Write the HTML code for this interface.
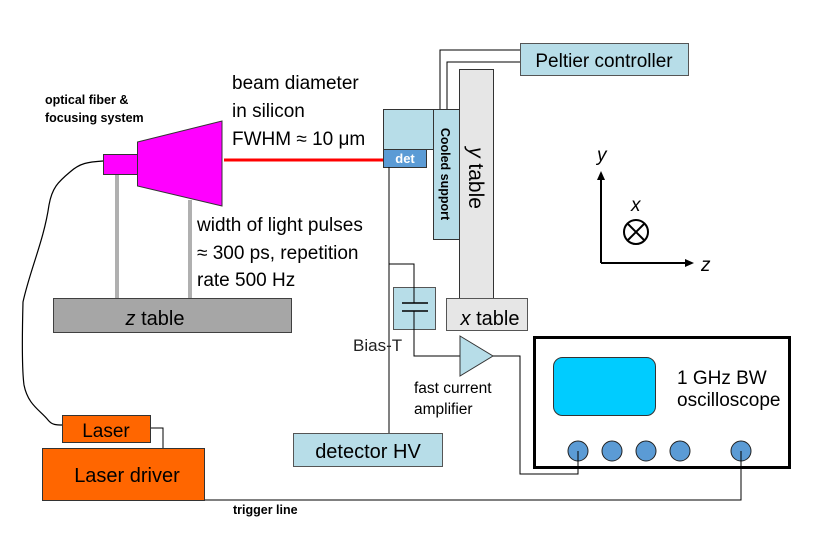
<!DOCTYPE html>
<html><head><style>body{margin:0;background:#fff}svg{display:block}</style></head><body>
<svg width="831" height="541" xmlns="http://www.w3.org/2000/svg" font-family="Liberation Sans, sans-serif">
<rect width="831" height="541" fill="#fff"/>
<path d="M103,161 C88,162 80,163 70,172 C58,182 52,188 49,205 C44,240 30,270 23,302 C22,340 22,370 24,385 C28,405 40,410 48,420 C52,425 56,425 63,425" fill="none" stroke="#000" stroke-width="1.2"/>
<rect x="115" y="174" width="4" height="124" fill="#b0b0b0"/>
<rect x="188" y="200" width="4" height="98" fill="#b0b0b0"/>
<rect x="53.5" y="298.5" width="238" height="34" fill="#a6a6a6" stroke="#404040"/>
<text x="155" y="325" font-size="20" text-anchor="middle"><tspan font-style="italic">z</tspan> table</text>
<rect x="103.5" y="154.5" width="34" height="20" fill="#ff00ff" stroke="#333"/>
<polygon points="137.5,142 222,121 222,206 137.5,186" fill="#ff00ff" stroke="#333"/>
<text x="45" y="104" font-size="12.5" font-weight="bold">optical fiber &amp;</text>
<text x="45" y="122" font-size="12.5" font-weight="bold">focusing system</text>
<line x1="224" y1="160" x2="384" y2="160" stroke="#ff0000" stroke-width="3"/>
<g font-size="19">
<text x="232" y="89">beam diameter</text>
<text x="232" y="117">in silicon</text>
<text x="232" y="145">FWHM ≈ 10 μm</text>
<text x="197" y="231">width of light pulses</text>
<text x="197" y="259">≈ 300 ps, repetition</text>
<text x="197" y="286">rate 500 Hz</text>
</g>
<polyline points="520,50 440,50 440,109" fill="none" stroke="#000"/>
<polyline points="520,62 447,62 447,109" fill="none" stroke="#000"/>
<rect x="520.5" y="43.5" width="168" height="32" fill="#b7dde8" stroke="#555"/>
<text x="604" y="67" font-size="19" text-anchor="middle">Peltier controller</text>
<rect x="459.5" y="69.5" width="34" height="229" fill="#e6e6e6" stroke="#333"/>
<text transform="translate(469,178) rotate(90)" font-size="21" text-anchor="middle"><tspan font-style="italic">y</tspan> table</text>
<rect x="446.5" y="298.5" width="81" height="32" fill="#e6e6e6" stroke="#555"/>
<text x="490" y="325" font-size="20" text-anchor="middle"><tspan font-style="italic">x</tspan> table</text>
<rect x="383.5" y="109.5" width="50" height="40" fill="#b7dde8" stroke="#333"/>
<rect x="383.5" y="149.5" width="43" height="18" fill="#5b9bd5" stroke="#333"/>
<text x="405" y="163" font-size="13" font-weight="bold" fill="#fff" text-anchor="middle">det</text>
<rect x="433.5" y="109.5" width="26" height="130" fill="#b7dde8" stroke="#333"/>
<text transform="translate(441,174) rotate(90)" font-size="12.5" font-weight="bold" text-anchor="middle">Cooled support</text>
<line x1="601" y1="263" x2="601" y2="178" stroke="#000" stroke-width="2"/>
<polygon points="601,171 597,180 605,180" fill="#000"/>
<line x1="601" y1="263" x2="686" y2="263" stroke="#000" stroke-width="2"/>
<polygon points="694,263 685,259 685,267" fill="#000"/>
<text x="597" y="161" font-size="19" font-style="italic">y</text>
<text x="701" y="271" font-size="19" font-style="italic">z</text>
<text x="631" y="211" font-size="19" font-style="italic">x</text>
<circle cx="636" cy="232" r="12" fill="none" stroke="#000" stroke-width="2"/>
<line x1="627.5" y1="223.5" x2="644.5" y2="240.5" stroke="#000" stroke-width="2"/>
<line x1="644.5" y1="223.5" x2="627.5" y2="240.5" stroke="#000" stroke-width="2"/>
<line x1="389" y1="167" x2="389" y2="433" stroke="#000"/>
<rect x="393.5" y="287.5" width="42" height="42" fill="#b7dde8" stroke="#555"/>
<polyline points="389,264 414,264 414,303" fill="none" stroke="#000"/>
<polyline points="414,311 414,356 460,356" fill="none" stroke="#000"/>
<line x1="402" y1="303" x2="428" y2="303" stroke="#000" stroke-width="1.5"/>
<line x1="402" y1="311" x2="428" y2="311" stroke="#000" stroke-width="1.5"/>
<text x="353" y="351" font-size="17" fill="#222">Bias-T</text>
<polygon points="460,336 493,356 460,376" fill="#b7dde8" stroke="#333"/>
<polyline points="493,356 520,356 520,474 578,474 578,451" fill="none" stroke="#000"/>
<text x="414" y="393" font-size="15.5">fast current</text>
<text x="414" y="414" font-size="15.5">amplifier</text>
<rect x="293.5" y="433.5" width="149" height="33" fill="#b7dde8" stroke="#555"/>
<text x="368" y="458" font-size="20" text-anchor="middle">detector HV</text>
<rect x="534.5" y="337.5" width="255" height="130" fill="#fff" stroke="#000" stroke-width="3"/>
<rect x="553.5" y="357.5" width="102" height="58" rx="9" fill="#00ccff" stroke="#333"/>
<text x="677" y="384" font-size="19">1 GHz BW</text>
<text x="677" y="406" font-size="19">oscilloscope</text>
<g fill="#5b9bd5" stroke="#222">
<circle cx="578" cy="451" r="10"/><circle cx="612" cy="451" r="10"/><circle cx="646" cy="451" r="10"/><circle cx="680" cy="451" r="10"/><circle cx="741" cy="451" r="10"/>
</g>
<line x1="578" y1="451" x2="578" y2="474" stroke="#000"/>
<polyline points="205,500 741,500 741,451" fill="none" stroke="#000"/>
<polyline points="150,428 163,428 163,448" fill="none" stroke="#000"/>
<rect x="62.5" y="415.5" width="88" height="27" fill="#ff6600" stroke="#333"/>
<text x="106" y="437" font-size="19" text-anchor="middle">Laser</text>
<rect x="42.5" y="448.5" width="162" height="52" fill="#ff6600" stroke="#333"/>
<text x="127" y="482" font-size="20" text-anchor="middle">Laser driver</text>
<text x="233" y="514" font-size="12.5" font-weight="bold">trigger line</text>
</svg>
</body></html>
